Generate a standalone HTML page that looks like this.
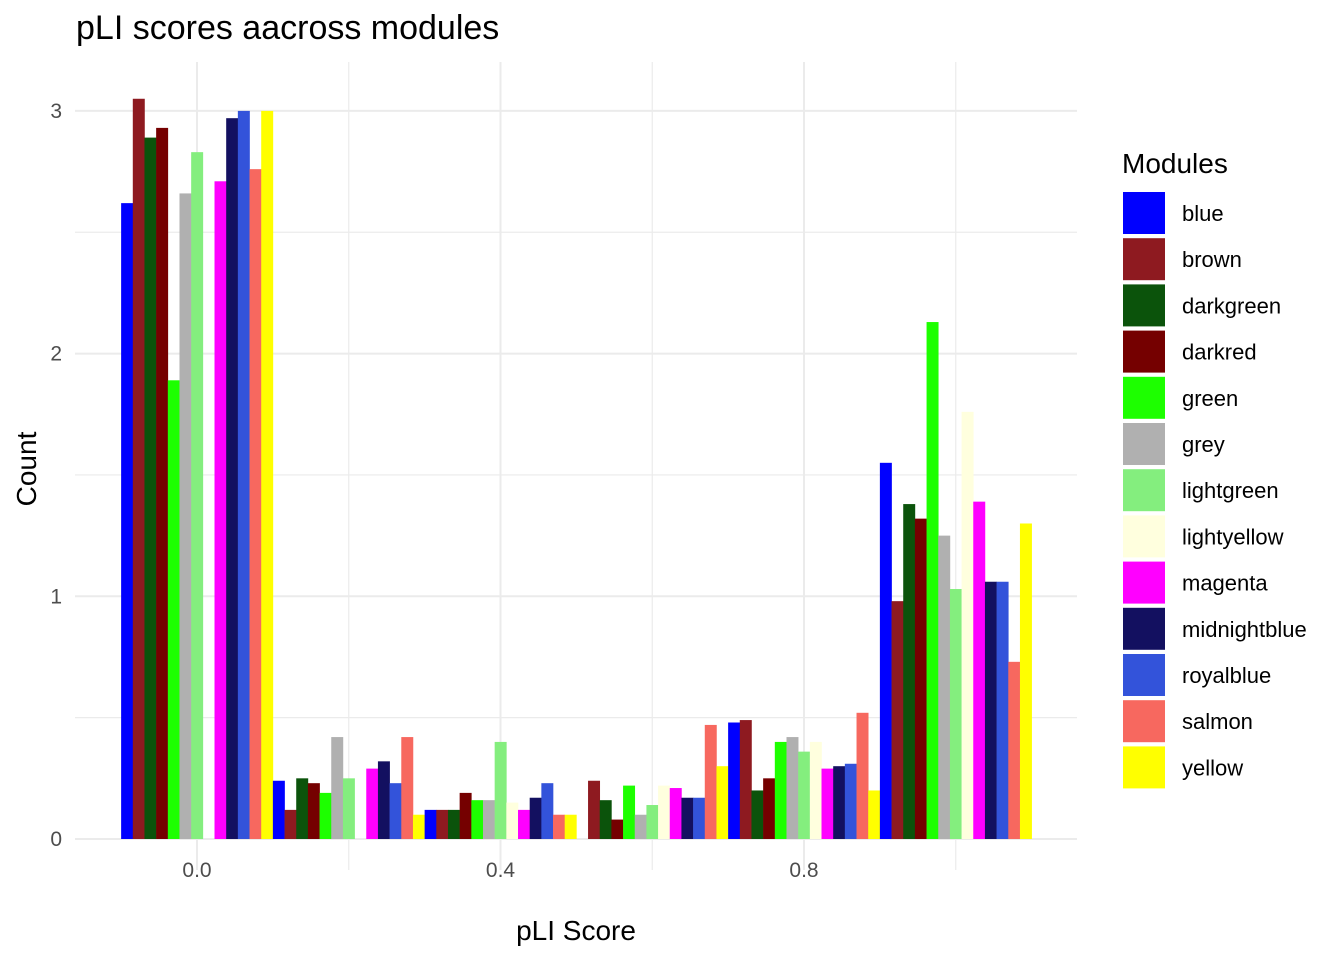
<!DOCTYPE html>
<html><head><meta charset="utf-8"><style>
body{margin:0;background:#fff;font-family:"Liberation Sans",Arial,sans-serif}
svg text{font-family:"Liberation Sans",Arial,sans-serif}
</style></head><body>
<svg id="c" width="1344" height="960">
<text x="76" y="39" font-size="34" fill="#000">pLI scores aacross modules</text>
<g id="grid"></g><g id="bars"></g><g id="axes"></g><g id="legend"></g>
<text x="576" y="940" font-size="28" text-anchor="middle">pLI Score</text>
<text transform="translate(36,469) rotate(-90)" font-size="28" text-anchor="middle">Count</text>
</svg>
<script>
const modules=["blue","brown","darkgreen","darkred","green","grey","lightgreen","lightyellow","magenta","midnightblue","royalblue","salmon","yellow"];
const colors=["#0000FF","#8E1A20","#0B530B","#750000","#1DFF00","#B0B0B0","#84EE7E","#FFFFDE","#FF00FF","#131060","#3353DA","#F7685F","#FFFF00"];
const binCenters=[0.0,0.2,0.4,0.6,0.8,1.0];
const bin0=[2.62,3.05,2.89,2.93,1.89,2.66,2.83,0,2.71,2.97,3.0,2.76,3.0];
const bin1=[0.24,0.12,0.25,0.23,0.19,0.42,0.25,0,0.29,0.32,0.23,0.42,0.10];
const bin2=[0.12,0.12,0.12,0.19,0.16,0.16,0.40,0.15,0.12,0.17,0.23,0.10,0.10];
const bin3=[0,0.24,0.16,0.08,0.22,0.10,0.14,0.22,0.21,0.17,0.17,0.47,0.30];
const bin4=[0.48,0.49,0.20,0.25,0.40,0.42,0.36,0.40,0.29,0.30,0.31,0.52,0.20];
const bin5=[1.55,0.98,1.38,1.32,2.13,1.25,1.03,1.76,1.39,1.06,1.06,0.73,1.30];
const bins=[bin0,bin1,bin2,bin3,bin4,bin5];
const xTicks=[0.0,0.4,0.8], xTickLabels=["0.0","0.4","0.8"];
const yTicks=[0,1,2,3];
const binWidth=0.2;
const X=v=>197+v*758.75, Y=v=>839-v*242.7;
const NS="http://www.w3.org/2000/svg";
function mk(p,t,a){const e=document.createElementNS(NS,t);for(const k in a)e.setAttribute(k,a[k]);p.appendChild(e);return e;}
const grid=document.getElementById('grid'),bars=document.getElementById('bars'),axes=document.getElementById('axes'),leg=document.getElementById('legend');
const L=75,R=1077,T=62,B=870;
for(let v=-0.2;v<=1.1;v+=0.2){const x=X(Math.round(v*10)/10);if(x<L||x>R)continue;
 const major=xTicks.some(t=>Math.abs(t-v)<1e-6);
 const l=mk(grid,'line',{x1:x,x2:x,y1:T,y2:B,stroke:'#EBEBEB','stroke-width':major?2:1.2});
 }
for(let v=0;v<=3.01;v+=0.5){const y=Y(v);
 const l=mk(grid,'line',{x1:L,x2:R,y1:y,y2:y,stroke:'#EBEBEB','stroke-width':(v%1===0)?2:1.2});
 }
const bw=binWidth/modules.length;
bins.forEach((vals,b)=>{const start=binCenters[b]-binWidth/2;
 vals.forEach((v,i)=>{if(v<=0)return;const x0=X(start+i*bw),x1=X(start+(i+1)*bw);
  const r=mk(bars,'rect',{x:x0,y:Y(v),width:x1-x0+0.3,height:Y(0)-Y(v),fill:colors[i]});
  
  });});
xTicks.forEach((t,i)=>{const e=mk(axes,'text',{x:X(t),y:877,'font-size':21,fill:'#4D4D4D','text-anchor':'middle'});e.textContent=xTickLabels[i];
 });
yTicks.forEach(t=>{const e=mk(axes,'text',{x:62,y:Y(t)+7,'font-size':21,fill:'#4D4D4D','text-anchor':'end'});e.textContent=t;
 });
const lt=mk(leg,'text',{x:1122,y:173,'font-size':28});lt.textContent='Modules';

modules.forEach((m,i)=>{const y=192+i*46.2;
 const g=mk(leg,'g',{});
 mk(g,'rect',{x:1123,y:y,width:42,height:42,fill:colors[i]});
 const t=mk(g,'text',{x:1182,y:y+29,'font-size':22});t.textContent=m;});
</script>
</body></html>
